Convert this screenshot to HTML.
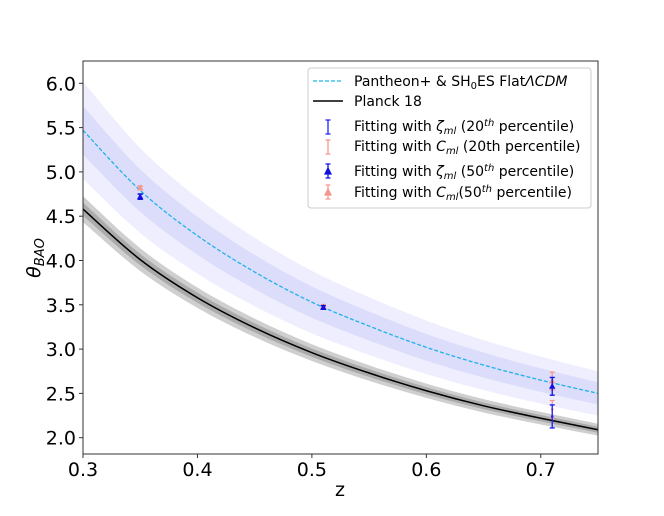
<!DOCTYPE html>
<html><head><meta charset="utf-8"><style>
body{margin:0;background:#fff}
text{font-family:"DejaVu Sans","Liberation Sans",sans-serif}
</style></head><body>
<svg id="c" width="664" height="511" xmlns="http://www.w3.org/2000/svg"></svg>
<script>
const zGrid=[0.30,0.35,0.40,0.45,0.50,0.55,0.60,0.65,0.70,0.75];
const pantheon=[5.47,4.79,4.28,3.87,3.53,3.26,3.02,2.82,2.65,2.50];
const planck=[4.58,4.01,3.58,3.24,2.96,2.73,2.53,2.36,2.22,2.09];
const zetaZ=[0.35,0.51,0.71];
const zeta20=[4.72,3.47,2.24];
const zeta20Err=[0.03,0.02,0.13];
const c20=[4.82,3.48,2.32];
const c20Err=[0.02,0.02,0.10];
const zeta50=[4.72,3.47,2.58];
const zeta50Err=[0.03,0.02,0.10];
const c50=[4.82,3.48,2.64];
const c50Err=[0.02,0.02,0.10];
const xTicks=[0.3,0.4,0.5,0.6,0.7];
const yTicks=[2.0,2.5,3.0,3.5,4.0,4.5,5.0,5.5,6.0];

const L=83,R=598,T=61,B=454;
const X=z=>L+(z-0.3)/(0.45)*(R-L);
const Y=v=>437.7-(v-2)*88.6;
const svg=document.getElementById('c');
const NS='http://www.w3.org/2000/svg';
function mk(t,a,p){const e=document.createElementNS(NS,t);for(const k in a)e.setAttribute(k,a[k]);(p||svg).appendChild(e);return e;}
const defs=mk('defs',{});const cp=mk('clipPath',{id:'cl'},defs);mk('rect',{x:L,y:T,width:R-L,height:B-T},cp);
const g=mk('g',{'clip-path':'url(#cl)'});
function smooth(P,start){
  let d=(start?'M':'L')+P[0][0]+','+P[0][1];
  for(let i=0;i<P.length-1;i++){
    const p0=P[Math.max(i-1,0)],p1=P[i],p2=P[i+1],p3=P[Math.min(i+2,P.length-1)];
    const c1=[p1[0]+(p2[0]-p0[0])/6,p1[1]+(p2[1]-p0[1])/6];
    const c2=[p2[0]-(p3[0]-p1[0])/6,p2[1]-(p3[1]-p1[1])/6];
    d+=`C${c1[0]},${c1[1]} ${c2[0]},${c2[1]} ${p2[0]},${p2[1]}`;
  }
  return d;
}
function band(arr,f,fill,name){
  const up=zGrid.map((z,i)=>[X(z),Y(arr[i]*(1+f))]);
  const lo=zGrid.map((z,i)=>[X(z),Y(arr[i]*(1-f))]).reverse();
  const e=mk('path',{d:smooth(up,true)+smooth(lo,false)+'Z',fill:fill},g);
  
  
}
function line(arr,attrs,name){
  const P=zGrid.map((z,i)=>[X(z),Y(arr[i])]);
  const e=mk('path',Object.assign({d:smooth(P,true),fill:'none'},attrs),g);
  
  
}
band(pantheon,0.10,'#eeeefe','pantheon-2sigma-band');
band(pantheon,0.05,'#dcdcfb','pantheon-1sigma-band');
band(planck,0.032,'#cfcfcf','planck-2sigma-band');
band(planck,0.016,'#ababab','planck-1sigma-band');
line(pantheon,{stroke:'#1fb4e8','stroke-width':1.3,'stroke-dasharray':'4,2'},'pantheon-line');
line(planck,{stroke:'#000','stroke-width':1.5},'planck-line');
function pts(vals,errs,color,tri,name){
  zetaZ.forEach((z,i)=>{
    const x=X(z),y=Y(vals[i]),y1=Y(vals[i]+errs[i]),y2=Y(vals[i]-errs[i]);
    const gg=mk('g',{},g);
    
    
    mk('path',{d:`M${x},${y1}V${y2}M${x-2.5},${y1}h5M${x-2.5},${y2}h5`,stroke:color,'stroke-width':1.3},gg);
    if(tri)mk('path',{d:`M${x},${y-3.5}L${x+3.2},${y+2.5}L${x-3.2},${y+2.5}Z`,fill:color},gg);
    else mk('circle',{cx:x,cy:y,r:1.3,fill:color},gg);
  });
}
pts(c20,c20Err,'#f4978e',false,'c-ml-20th-point');
pts(c50,c50Err,'#f4978e',true,'c-ml-50th-point');
pts(zeta20,zeta20Err,'#2020f0',false,'zeta-ml-20th-point');
pts(zeta50,zeta50Err,'#1010e0',true,'zeta-ml-50th-point');
const fr=mk('rect',{x:L,y:T,width:R-L,height:B-T,fill:'none',stroke:'#333','stroke-width':1});

xTicks.forEach(t=>{
  mk('line',{x1:X(t),x2:X(t),y1:B,y2:B+4,stroke:'#333'});
  const e=mk('text',{x:X(t),y:B+22,'font-size':19,'text-anchor':'middle'});e.textContent=t.toFixed(1);
  
});
yTicks.forEach(t=>{
  mk('line',{x1:L-4,x2:L,y1:Y(t),y2:Y(t),stroke:'#333'});
  const e=mk('text',{x:L-7,y:Y(t)+7,'font-size':19,'text-anchor':'end'});e.textContent=t.toFixed(1);
  
});
</script>
<svg width="664" height="511" style="position:absolute;left:0;top:0" xmlns="http://www.w3.org/2000/svg">
<text x="340" y="496" font-size="19" text-anchor="middle" style="font-family:'DejaVu Sans',sans-serif">z</text>
<text transform="translate(40,258) rotate(-90)" font-size="19" text-anchor="middle" style="font-family:'DejaVu Sans',sans-serif"><tspan font-style="italic">θ</tspan><tspan font-style="italic" font-size="13" dy="4">BAO</tspan></text>
<g style="font-family:'DejaVu Sans',sans-serif" font-size="14">
<rect x="308" y="68" width="283" height="140" rx="3" fill="#fff" fill-opacity="0.85" stroke="#ccc"/>
<line x1="313" x2="343" y1="81" y2="81" stroke="#1fb4e8" stroke-width="1.3" stroke-dasharray="4,2"/>
<text x="354" y="86">Pantheon+ &amp; SH<tspan font-size="10" dy="3">0</tspan><tspan dy="-3">ES Flat</tspan><tspan font-style="italic">ΛCDM</tspan></text>
<line x1="313" x2="343" y1="101" y2="101" stroke="#000" stroke-width="1.5"/>
<text x="354" y="106">Planck 18</text>
<path d="M328,120V134M325.5,120h5M325.5,134h5" stroke="#2020f0" stroke-width="1.3"/>
<text x="354" y="131">Fitting with <tspan font-style="italic">ζ</tspan><tspan font-style="italic" font-size="10" dy="3">ml</tspan><tspan dy="-3"> (20</tspan><tspan font-style="italic" font-size="10" dy="-5">th</tspan><tspan dy="5"> percentile)</tspan></text>
<path d="M328,140V154M325.5,140h5M325.5,154h5" stroke="#f4978e" stroke-width="1.3"/>
<text x="354" y="151">Fitting with <tspan font-style="italic">C</tspan><tspan font-style="italic" font-size="10" dy="3">ml</tspan><tspan dy="-3"> (20th percentile)</tspan></text>
<path d="M328,164V178M325.5,164h5M325.5,178h5M328,168L331,174L325,174Z" stroke="#1010e0" fill="#1010e0" stroke-width="1.3"/>
<text x="354" y="176">Fitting with <tspan font-style="italic">ζ</tspan><tspan font-style="italic" font-size="10" dy="3">ml</tspan><tspan dy="-3"> (50</tspan><tspan font-style="italic" font-size="10" dy="-5">th</tspan><tspan dy="5"> percentile)</tspan></text>
<path d="M328,185V199M325.5,185h5M325.5,199h5M328,189L331,195L325,195Z" stroke="#f4978e" fill="#f4978e" stroke-width="1.3"/>
<text x="354" y="197">Fitting with <tspan font-style="italic">C</tspan><tspan font-style="italic" font-size="10" dy="3">ml</tspan><tspan dy="-3">(50</tspan><tspan font-style="italic" font-size="10" dy="-5">th</tspan><tspan dy="5"> percentile)</tspan></text>
</g>
</svg>
</body></html>
